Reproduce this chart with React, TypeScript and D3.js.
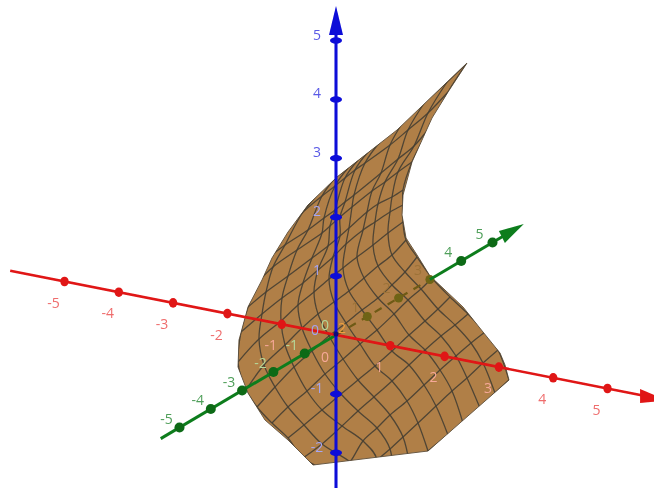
import React from 'react';
import * as d3 from 'd3';

// Axis tick values
const xTicks = [-5, -4, -3, -2, -1, 1, 2, 3, 4, 5];
const yFrontTicks = [-5, -4, -3, -2, -1, 4, 5];
const yHiddenTicks = [1, 2, 3];
const zTicks = [-2, -1, 1, 2, 3, 4, 5];

// The surface, read off the picture as a sheet seen from the camera:
// one row per mesh line, one column per crossing mesh line.
const meshU = [
  [-36,-1,29,57,74,92,112,127,144,159,173],
  [9,25,41,54,67,82,100,116,131,147,162],
  [-1,14,27,41,54,71,88,104,120,135,149],
  [-33,-14,6,22,38,56,73,89,105,119,132],
  [-48,-32,-14,5,22,39,56,73,89,102,114],
  [-64,-48,-29,-11,7,24,41,58,72,85,96],
  [-79,-61,-42,-24,-7,10,26,42,56,69,81],
  [-90,-72,-51,-34,-18,-2,13,28,42,56,70],
  [-98,-77,-55,-38,-22,-7,7,21,37,52,67],
  [-95,-74,-54,-33,-18,-3,10,27,39,54,67],
  [-88,-70,-48,-24,-8,4,13,31,42,56,67],
  [-78,-63,-39,-14,-6,4,16,36,49,62,76],
  [-68,-51,-28,-12,-1,9,18,45,62,78,94],
  [-51,-33,-14,-1,9,19,29,54,72,92,112],
  [-28,-14,-1,12,22,32,44,67,89,111,131],
];
const meshV = [
  [-205,-185,-165,-145,-132,-116,-100,-88,-73,-58,-45],
  [-155,-140,-125,-114,-102,-88,-71,-56,-43,-28,-15],
  [-141,-127,-106,-93,-80,-66,-50,-35,-21,-8,3],
  [-123,-109,-91,-76,-62,-46,-30,-15,-1,10,21],
  [-103,-90,-75,-59,-45,-31,-16,0,14,26,38],
  [-88,-72,-56,-39,-24,-9,5,21,35,46,57],
  [-72,-52,-32,-16,-1,12,25,37,50,63,78],
  [-55,-30,-10,7,21,33,44,57,69,80,95],
  [-27,-4,14,30,43,56,67,78,90,102,113],
  [3,21,37,52,65,78,91,105,113,123,130],
  [28,43,59,77,89,99,107,123,131,138,145],
  [53,68,85,102,109,118,128,144,153,163,173],
  [77,90,105,117,125,133,140,162,176,189,208],
  [105,123,139,149,157,165,172,190,205,222,243],
  [130,145,157,167,175,183,193,213,233,253,272],
];
const outlineU = [-28,1,61,131,112,96,76,67,66,70,81,94,109,127,147,164,169,173,92,-23,-48,-71,-88,-98,-97,-88,-74,-64,-48];
const outlineV = [130,158,205,272,243,217,173,140,120,97,80,59,45,28,3,-18,-30,-45,-116,-130,-105,-85,-58,-32,-5,28,55,77,103];

type P = [number, number];
const W = 654, H = 488;
const X0 = 336, Y0 = 335;
const xAxisX = d3.scaleLinear().domain([0, 1]).range([X0, X0 + 54.3]);
const xAxisY = d3.scaleLinear().domain([0, 1]).range([Y0, Y0 + 10.7]);
const yAxisX = d3.scaleLinear().domain([0, 1]).range([X0, X0 + 31.3]);
const yAxisY = d3.scaleLinear().domain([0, 1]).range([Y0, Y0 - 18.5]);
const zAxisY = d3.scaleLinear().domain([0, 1]).range([Y0, Y0 - 58.9]);
const sheetX = d3.scaleLinear().domain([0, 100]).range([X0, X0 + 100]);
const sheetY = d3.scaleLinear().domain([0, 100]).range([Y0, Y0 - 100]);

const meshGen = d3.line<P>().x(d => sheetX(d[0])).y(d => sheetY(d[1])).curve(d3.curveCatmullRom.alpha(0.5));
const edgeGen = d3.line<P>().x(d => sheetX(d[0])).y(d => sheetY(d[1])).curve(d3.curveLinear);

const rows: P[][] = meshU.map((r, j) => r.map((u, i) => [u, meshV[j][i]] as P));
const cols: P[][] = meshU[0].map((_, i) => meshU.map((r, j) => [r[i], meshV[j][i]] as P));
const outline: P[] = outlineU.map((u, i) => [u, outlineV[i]] as P);
const outlinePath = (edgeGen(outline) ?? '') + 'Z';

const RED = '#e01414', GREEN = '#0f7d1e', BLUE = '#0808d8';
const FONT = '"Open Sans", "Noto Sans", sans-serif';
const labelStyle = { fontFamily: FONT, fontSize: 14 };

export default function App() {
  return (
    <svg width={W} height={H} viewBox={`0 0 ${W} ${H}`} style={{ position: 'absolute', left: 0, top: 0, background: '#fff' }}>
      <defs>
        <filter id="soft" x="-5%" y="-5%" width="110%" height="110%">
          <feGaussianBlur stdDeviation="0.45" />
        </filter>
        <clipPath id="sheet"><path d={outlinePath} /></clipPath>
      </defs>
      <g filter="url(#soft)">
        <path d={outlinePath} fill="#b07f47" stroke="#6a5a45" strokeWidth={1} strokeLinejoin="round" />
        <g fill="none" stroke="#463f33" strokeOpacity={0.9} strokeWidth={1.3} clipPath="url(#sheet)">
          {rows.map((l, i) => <path key={i} d={meshGen(l) ?? ''} />)}
          {cols.map((l, i) => <path key={i} d={meshGen(l) ?? ''} />)}
        </g>

        {/* hidden part of the y axis */}
        <line x1={yAxisX(0)} y1={yAxisY(0)} x2={yAxisX(3)} y2={yAxisY(3)} stroke="#6e5a14" strokeWidth={2.2} strokeDasharray="8 7" />
        {yHiddenTicks.map(t => <circle key={t} cx={yAxisX(t)} cy={yAxisY(t)} r={4.5} fill="#6e6414" />)}
        {yHiddenTicks.map(t => (
          <text key={t} x={yAxisX(t) - 12} y={yAxisY(t) - 5} textAnchor="middle" fontFamily={FONT} fontSize={14} fill="#9c7238">{t}</text>
        ))}

        {/* y axis */}
        <line x1={yAxisX(-5.6)} y1={yAxisY(-5.6)} x2={yAxisX(0)} y2={yAxisY(0)} stroke={GREEN} strokeWidth={3} />
        <line x1={yAxisX(3)} y1={yAxisY(3)} x2={yAxisX(5.5)} y2={yAxisY(5.5)} stroke={GREEN} strokeWidth={3} />
        <path d={`M${yAxisX(6)},${yAxisY(6)}L${yAxisX(5.3) - 3},${yAxisY(5.3) - 6}L${yAxisX(5.3) + 3},${yAxisY(5.3) + 6}Z`} fill={GREEN} />
        {yFrontTicks.map(t => <circle key={t} cx={yAxisX(t)} cy={yAxisY(t)} r={5} fill="#0a6a16" />)}
        {yFrontTicks.map(t => {
          const pale = t > -3 && t < 0;
          return <text key={t} x={yAxisX(t) - 13} y={yAxisY(t) - 4} textAnchor="middle" {...labelStyle} fill={pale ? '#b5d89a' : '#4f9f5a'}>{t}</text>;
        })}

        {/* x axis */}
        <line x1={xAxisX(-6)} y1={xAxisY(-6)} x2={xAxisX(5.65)} y2={xAxisY(5.65)} stroke={RED} strokeWidth={2.6} />
        <path d={`M${xAxisX(5.85) + 14},${xAxisY(5.85) + 3}L${xAxisX(5.6)},${xAxisY(5.6) - 6}L${xAxisX(5.6)},${xAxisY(5.6) + 8}Z`} fill={RED} />
        {xTicks.map(t => <ellipse key={t} cx={xAxisX(t)} cy={xAxisY(t)} rx={4.2} ry={4.8} fill={RED} />)}
        {xTicks.map(t => {
          const onSheet = t > -2 && t < 4;
          return <text key={t} x={xAxisX(t) - 11} y={xAxisY(t) + 26} textAnchor="middle" {...labelStyle} fill={onSheet ? '#f6a898' : '#ef6d6d'}>{t}</text>;
        })}

        {/* z axis */}
        <line x1={X0} y1={H} x2={X0} y2={30} stroke={BLUE} strokeWidth={3} />
        <path d={`M${X0},6L${X0 - 7},35L${X0 + 7},35Z`} fill={BLUE} />
        {zTicks.map(t => <ellipse key={t} cx={X0} cy={zAxisY(t)} rx={6} ry={3.2} fill={BLUE} />)}
        {zTicks.map(t => {
          const onSheet = t < 3;
          return <text key={t} x={X0 - 19} y={zAxisY(t) - 1} textAnchor="middle" {...labelStyle} fill={onSheet ? '#a6a6f4' : '#5a5ae6'}>{t}</text>;
        })}

        {/* origin labels */}
        <text x={315} y={335} textAnchor="middle" {...labelStyle} fill="#a8a0ee">0</text>
        <text x={325} y={330} textAnchor="middle" {...labelStyle} fill="#b5d89a">0</text>
        <text x={325} y={362} textAnchor="middle" {...labelStyle} fill="#f6a898">0</text>
        <text x={342} y={333} textAnchor="middle" {...labelStyle} fill="#f0a040">2</text>
        <circle cx={X0} cy={Y0 - 1} r={2.5} fill="#10107a" />
      </g>
    </svg>
  );
}
